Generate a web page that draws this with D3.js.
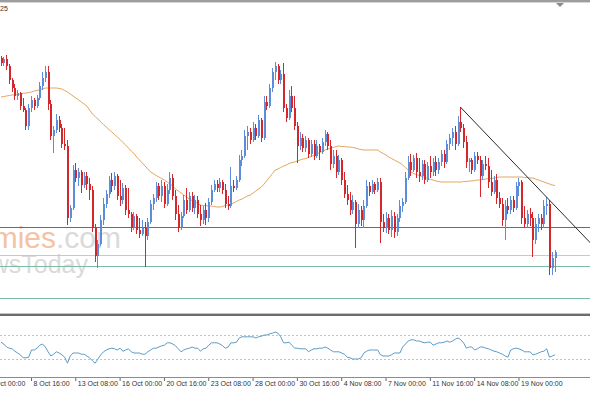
<!DOCTYPE html>
<html>
<head>
<meta charset="utf-8">
<title>H4 chart</title>
<script src="https://cdn.jsdelivr.net/npm/d3@7"></script>
<style>
  body{margin:0;background:#fff;}
  svg{display:block;font-family:"Liberation Sans",Arial,sans-serif;}
</style>
</head>
<body>
<svg id="chart" width="590" height="393"></svg>
<script>
// H4 candles [open, high, low, close], first visible bar 6 Oct 20:00
var ohlc = [
  [1.1652,1.1654,1.1644,1.1647],[1.1647,1.1653,1.1644,1.1651],[1.1651,1.1655,1.1640,1.1644],[1.1644,1.1646,1.1626,1.1630],[1.1630,1.1632,1.1618,1.1622],
  [1.1622,1.1626,1.1610,1.1614],[1.1614,1.1620,1.1610,1.1617],[1.1617,1.1618,1.1600,1.1604],[1.1604,1.1612,1.1598,1.1600],[1.1600,1.1602,1.1580,1.1584],
  [1.1584,1.1606,1.1580,1.1602],[1.1602,1.1614,1.1598,1.1610],[1.1610,1.1612,1.1600,1.1604],[1.1604,1.1615,1.1602,1.1612],[1.1612,1.1628,1.1610,1.1624],
  [1.1624,1.1638,1.1620,1.1632],[1.1632,1.1644,1.1628,1.1638],[1.1638,1.1644,1.1600,1.1606],[1.1606,1.1610,1.1570,1.1574],[1.1574,1.1584,1.1557,1.1580],
  [1.1580,1.1596,1.1577,1.1590],[1.1590,1.1594,1.1578,1.1582],[1.1582,1.1586,1.1562,1.1566],[1.1566,1.1582,1.1560,1.1564],[1.1564,1.1570,1.1485,1.1492],
  [1.1492,1.1505,1.1488,1.1502],[1.1502,1.1545,1.1500,1.1540],[1.1540,1.1547,1.1528,1.1532],[1.1532,1.1542,1.1524,1.1538],[1.1538,1.1540,1.1517,1.1525],
  [1.1525,1.1538,1.1522,1.1534],[1.1534,1.1538,1.1520,1.1526],[1.1526,1.1532,1.1510,1.1520],[1.1520,1.1524,1.1478,1.1482],[1.1482,1.1486,1.1448,1.1454],
  [1.1454,1.1470,1.1442,1.1466],[1.1466,1.1495,1.1464,1.1490],[1.1490,1.1512,1.1485,1.1506],[1.1506,1.1520,1.1502,1.1516],[1.1516,1.1534,1.1512,1.1530],
  [1.1530,1.1537,1.1518,1.1524],[1.1524,1.1538,1.1520,1.1534],[1.1534,1.1536,1.1510,1.1514],[1.1514,1.1530,1.1504,1.1510],[1.1510,1.1527,1.1506,1.1522],
  [1.1522,1.1525,1.1495,1.1500],[1.1500,1.1522,1.1492,1.1496],[1.1496,1.1498,1.1478,1.1482],[1.1482,1.1498,1.1480,1.1494],[1.1494,1.1496,1.1476,1.1480],
  [1.1480,1.1492,1.1472,1.1476],[1.1476,1.1490,1.1474,1.1482],[1.1482,1.1488,1.1443,1.1474],[1.1474,1.1492,1.1470,1.1488],[1.1488,1.1510,1.1486,1.1506],
  [1.1506,1.1516,1.1500,1.1512],[1.1512,1.1528,1.1508,1.1524],[1.1524,1.1527,1.1510,1.1514],[1.1514,1.1530,1.1508,1.1524],[1.1524,1.1528,1.1502,1.1506],
  [1.1506,1.1526,1.1504,1.1520],[1.1520,1.1538,1.1516,1.1532],[1.1532,1.1536,1.1510,1.1514],[1.1514,1.1520,1.1490,1.1496],[1.1496,1.1505,1.1478,1.1482],
  [1.1482,1.1498,1.1480,1.1494],[1.1494,1.1515,1.1492,1.1510],[1.1510,1.1522,1.1496,1.1500],[1.1500,1.1518,1.1498,1.1514],[1.1514,1.1518,1.1498,1.1502],
  [1.1502,1.1515,1.1496,1.1510],[1.1510,1.1514,1.1492,1.1496],[1.1496,1.1505,1.1484,1.1490],[1.1490,1.1504,1.1486,1.1500],[1.1500,1.1507,1.1485,1.1492],
  [1.1492,1.1512,1.1488,1.1508],[1.1508,1.1525,1.1505,1.1520],[1.1520,1.1530,1.1518,1.1526],[1.1526,1.1530,1.1518,1.1522],[1.1522,1.1532,1.1518,1.1528],
  [1.1528,1.1530,1.1516,1.1520],[1.1520,1.1526,1.1502,1.1506],[1.1506,1.1514,1.1500,1.1504],[1.1504,1.1543,1.1502,1.1524],[1.1524,1.1530,1.1518,1.1522],
  [1.1522,1.1534,1.1520,1.1530],[1.1530,1.1555,1.1528,1.1550],[1.1550,1.1560,1.1544,1.1554],[1.1554,1.1580,1.1552,1.1574],[1.1574,1.1584,1.1560,1.1578],
  [1.1578,1.1582,1.1566,1.1570],[1.1570,1.1588,1.1568,1.1582],[1.1582,1.1586,1.1570,1.1574],[1.1574,1.1595,1.1572,1.1590],[1.1590,1.1592,1.1568,1.1572],
  [1.1572,1.1614,1.1570,1.1608],[1.1608,1.1614,1.1600,1.1604],[1.1604,1.1626,1.1602,1.1622],[1.1622,1.1642,1.1618,1.1638],[1.1638,1.1648,1.1630,1.1644],
  [1.1644,1.1646,1.1626,1.1630],[1.1630,1.1640,1.1626,1.1636],[1.1636,1.1647,1.1598,1.1602],[1.1602,1.1606,1.1588,1.1592],[1.1592,1.1620,1.1590,1.1614],
  [1.1614,1.1624,1.1598,1.1602],[1.1602,1.1614,1.1580,1.1584],[1.1584,1.1588,1.1547,1.1564],[1.1564,1.1578,1.1560,1.1572],[1.1572,1.1576,1.1558,1.1562],
  [1.1562,1.1574,1.1558,1.1570],[1.1570,1.1572,1.1552,1.1556],[1.1556,1.1570,1.1553,1.1566],[1.1566,1.1570,1.1550,1.1554],[1.1554,1.1570,1.1552,1.1564],
  [1.1564,1.1566,1.1550,1.1558],[1.1558,1.1572,1.1556,1.1568],[1.1568,1.1580,1.1564,1.1576],[1.1576,1.1578,1.1560,1.1564],[1.1564,1.1570,1.1540,1.1546],
  [1.1546,1.1560,1.1542,1.1554],[1.1554,1.1560,1.1532,1.1538],[1.1538,1.1555,1.1535,1.1550],[1.1550,1.1552,1.1525,1.1530],[1.1530,1.1538,1.1512,1.1516],
  [1.1516,1.1525,1.1505,1.1510],[1.1510,1.1518,1.1495,1.1500],[1.1500,1.1515,1.1496,1.1508],[1.1508,1.1510,1.1462,1.1486],[1.1486,1.1506,1.1482,1.1500],
  [1.1500,1.1504,1.1484,1.1490],[1.1490,1.1510,1.1482,1.1504],[1.1504,1.1530,1.1502,1.1524],[1.1524,1.1528,1.1514,1.1518],[1.1518,1.1530,1.1516,1.1526],
  [1.1526,1.1528,1.1516,1.1520],[1.1520,1.1532,1.1518,1.1528],[1.1528,1.1532,1.1467,1.1488],[1.1488,1.1496,1.1478,1.1482],[1.1482,1.1498,1.1477,1.1492],
  [1.1492,1.1496,1.1476,1.1480],[1.1480,1.1500,1.1473,1.1494],[1.1494,1.1498,1.1472,1.1478],[1.1478,1.1496,1.1474,1.1492],[1.1492,1.1510,1.1488,1.1504],
  [1.1504,1.1512,1.1498,1.1508],[1.1508,1.1538,1.1506,1.1532],[1.1532,1.1554,1.1530,1.1548],[1.1548,1.1556,1.1534,1.1540],[1.1540,1.1555,1.1538,1.1552],
  [1.1552,1.1557,1.1532,1.1538],[1.1538,1.1552,1.1528,1.1534],[1.1534,1.1550,1.1530,1.1546],[1.1546,1.1550,1.1526,1.1530],[1.1530,1.1548,1.1528,1.1544],
  [1.1544,1.1554,1.1532,1.1538],[1.1538,1.1552,1.1534,1.1548],[1.1548,1.1554,1.1534,1.1540],[1.1540,1.1552,1.1536,1.1548],[1.1548,1.1560,1.1544,1.1556],
  [1.1556,1.1560,1.1542,1.1548],[1.1548,1.1570,1.1546,1.1566],[1.1566,1.1576,1.1560,1.1572],[1.1572,1.1582,1.1564,1.1578],[1.1578,1.1584,1.1560,1.1566],
  [1.1566,1.1594,1.1564,1.1588],[1.1588,1.1603,1.1578,1.1582],[1.1582,1.1586,1.1562,1.1568],[1.1568,1.1574,1.1542,1.1548],[1.1548,1.1552,1.1538,1.1550],
  [1.1550,1.1552,1.1536,1.1540],[1.1540,1.1558,1.1538,1.1554],[1.1554,1.1558,1.1546,1.1550],[1.1550,1.1554,1.1513,1.1534],[1.1534,1.1550,1.1530,1.1546],
  [1.1546,1.1554,1.1540,1.1544],[1.1544,1.1552,1.1522,1.1528],[1.1528,1.1540,1.1514,1.1518],[1.1518,1.1534,1.1516,1.1530],[1.1530,1.1536,1.1506,1.1512],
  [1.1512,1.1518,1.1502,1.1506],[1.1506,1.1512,1.1484,1.1490],[1.1490,1.1510,1.1470,1.1504],[1.1504,1.1512,1.1496,1.1500],[1.1500,1.1514,1.1496,1.1510],
  [1.1510,1.1514,1.1498,1.1502],[1.1502,1.1528,1.1500,1.1524],[1.1524,1.1532,1.1514,1.1528],[1.1528,1.1530,1.1486,1.1492],[1.1492,1.1504,1.1482,1.1486],
  [1.1486,1.1500,1.1482,1.1496],[1.1496,1.1502,1.1484,1.1492],[1.1492,1.1498,1.1453,1.1470],[1.1470,1.1492,1.1466,1.1486],[1.1486,1.1496,1.1478,1.1492],
  [1.1492,1.1496,1.1480,1.1486],[1.1486,1.1510,1.1482,1.1504],[1.1504,1.1513,1.1495,1.1506],[1.1506,1.1510,1.1435,1.1442],[1.1442,1.1458,1.1435,1.1452],
  [1.1452,1.1460,1.1438,1.1458]
];

// moving average (orange line), one value per bar
var ma = [
  1.1613,1.16135,1.1614,1.16145,1.1615, 1.1615,1.16155,1.1616,1.16165,1.1617,
  1.16175,1.1618,1.1619,1.16195,1.16205, 1.1621,1.1622,1.1622,1.1622,1.1622,
  1.1622,1.16215,1.1621,1.16195,1.1618, 1.1616,1.1614,1.1612,1.1610,1.1608,
  1.1606,1.1604,1.1600,1.1596,1.15935, 1.1591,1.1588,1.15855,1.1583,1.15805,
  1.1578,1.15755,1.1573,1.15705,1.15675, 1.1565,1.1562,1.1559,1.15565,1.1553,
  1.1550,1.1547,1.1544,1.1541,1.1538, 1.15365,1.15345,1.1533,1.15315,1.1530,
  1.1528,1.1526,1.1524,1.1521,1.1519, 1.1517,1.1515,1.1513,1.1511,1.15095,
  1.1508,1.15065,1.1505,1.15045,1.15045, 1.1504,1.1504,1.15035,1.1503,1.1503,
  1.15035,1.15045,1.1505,1.1506,1.1507, 1.15085,1.1510,1.1511,1.15125,1.1514,
  1.1515,1.1517,1.1519,1.1521,1.1523, 1.1526,1.15295,1.1533,1.15365,1.1540,
  1.1541,1.15425,1.1544,1.1545,1.15465, 1.15475,1.1548,1.1549,1.1550,1.1551,
  1.15515,1.15525,1.15535,1.1555,1.1556, 1.15575,1.15585,1.1560,1.1561,1.1562,
  1.15625,1.15635,1.1564,1.15635,1.15635, 1.1563,1.1563,1.15625,1.1562,1.1561,
  1.15605,1.1560,1.1560,1.1560,1.1560, 1.1560,1.1560,1.1558,1.15565,1.1555,
  1.1553,1.15515,1.1550,1.15485,1.1547, 1.1545,1.15425,1.1540,1.1538,1.15365,
  1.15355,1.15345,1.15335,1.15325,1.15315, 1.15305,1.1530,1.1529,1.15285,1.1528,
  1.1528,1.1528,1.1528,1.1528,1.1528, 1.1528,1.1528,1.15285,1.15285,1.1529,
  1.1529,1.15295,1.1530,1.1530,1.15305, 1.1531,1.15315,1.15315,1.1532,1.15325,
  1.1533,1.1533,1.1533,1.1533,1.1533, 1.1533,1.1533,1.1533,1.1533,1.15325,
  1.15325,1.1532,1.1532,1.1531,1.1530, 1.1529,1.1528,1.1527,1.1526,1.1525,
  1.15245
];

// oscillator in the lower pane (0..100), one value per bar
var rsi = [
  58,55,50,48,47, 43,40,37,32,32, 33,45,45,48,53, 55,50,42,35,38,
  42,40,37,33,23, 35,40,40,40,38, 38,35,32,27,23, 30,37,42,45,47,
  48,47,45,48,43, 45,47,42,40,40, 40,38,38,42,45, 48,48,50,52,53,
  57,57,55,52,47, 42,45,47,48,50, 48,48,43,47,48, 53,57,57,57,55,
  52,48,50,57,57, 58,65,67,67,67, 67,67,65,67,68, 70,70,72,73,75,
  73,67,57,57,58, 53,48,48,47,47, 47,42,45,47,47, 48,48,50,48,45,
  42,42,42,40,38, 33,32,30,30,30, 32,40,43,45,45, 45,45,37,35,35,
  35,37,40,40,40, 50,55,60,62,62, 60,60,58,57,58, 58,53,55,57,57,
  58,60,58,60,63, 65,62,57,48,50, 50,45,47,50,50, 48,47,45,43,42,
  40,38,35,33,45, 47,48,47,45,42, 42,42,37,38,40, 42,43,47,33,35,
  37
];
var rsiLevels = [70, 30];

// horizontal support / resistance levels
var levels = [1.1483, 1.1455, 1.1444, 1.1412];

// trend line anchors [bar index, price]
var trend = [[166, 1.1603], [213, 1.1467]];

// time axis labels and the bar each one sits on
var timeLabels = ["6 Oct 00:00","8 Oct 16:00","13 Oct 08:00","16 Oct 00:00","20 Oct 16:00","23 Oct 08:00",
                  "28 Oct 00:00","30 Oct 16:00","4 Nov 08:00","7 Nov 00:00","11 Nov 16:00","14 Nov 08:00","19 Nov 00:00"];
var labelBars = [-5, 11, 27, 43, 59, 75, 91, 107, 123, 139, 155, 171, 187];

var W = 590, H = 393;
var mainTop = 3, mainBottom = 311, subTop = 317, subBottom = 377;
var upColor = "#5b8ddb", downColor = "#d4262b";
var levelColors = ["#b34a5c", "#c9c9c9", "#7dbba5", "#7dbba5"];

var svg = d3.select("#chart");

var x = d3.scaleLinear().domain([0, ohlc.length - 1]).range([0.5, 554.5]);
var y = d3.scaleLinear().domain([1.1399, 1.1707]).range([mainBottom, mainTop]);
var yr = d3.scaleLinear().domain([0, 100]).range([subBottom, subTop]);

svg.append("rect").attr("width", W).attr("height", H).attr("fill", "#fff");

var defs = svg.append("defs");
defs.append("clipPath").attr("id", "clipMain").append("rect")
    .attr("x", 0).attr("y", mainTop).attr("width", W).attr("height", mainBottom - mainTop);
defs.append("clipPath").attr("id", "clipSub").append("rect")
    .attr("x", 0).attr("y", subTop).attr("width", W).attr("height", subBottom - subTop);

// top frame
svg.append("rect").attr("x", 0).attr("y", 0).attr("width", W).attr("height", 2).attr("fill", "#9d9d9d");
svg.append("rect").attr("x", 0).attr("y", 2).attr("width", W).attr("height", 1).attr("fill", "#d6d6d6");
svg.append("path").attr("d", "M556,3L564,3L560,7Z").attr("fill", "#8a8a8a");

svg.append("text").attr("x", 0).attr("y", 11).attr("font-size", 7).attr("fill", "#333").text("25");

var main = svg.append("g").attr("clip-path", "url(#clipMain)");

// watermark, one text with two coloured parts, split point at x=56
var wm = main.append("text").attr("y", 248).attr("font-size", 30);
var wmA = wm.append("tspan").attr("fill", "#f4c3a4").text("economies");
wm.append("tspan").attr("fill", "#dadada").text(".com");
wm.attr("x", 56 - wmA.node().getComputedTextLength());
main.append("text").attr("x", 88).attr("y", 273).attr("text-anchor", "end")
    .attr("font-size", 25).attr("fill", "#dadada").text("NewsToday");

// levels
main.selectAll("line.level").data(levels).enter().append("line")
    .attr("class", "level")
    .attr("x1", 0).attr("x2", W)
    .attr("y1", function(d){ return Math.round(y(d)) + 0.5; })
    .attr("y2", function(d){ return Math.round(y(d)) + 0.5; })
    .attr("stroke", function(d, i){ return levelColors[i]; })
    .attr("stroke-width", 1);

// moving average
main.append("path").datum(ma)
    .attr("fill", "none").attr("stroke", "#e3a55c").attr("stroke-width", 1)
    .attr("d", d3.line().x(function(d, i){ return x(i) + 0.5; }).y(function(d){ return y(d); }));

// candles
var bar = main.selectAll("g.bar").data(ohlc).enter().append("g").attr("class", "bar");
bar.append("line")
    .attr("x1", function(d, i){ return Math.round(x(i)) + 0.5; })
    .attr("x2", function(d, i){ return Math.round(x(i)) + 0.5; })
    .attr("y1", function(d){ return y(d[1]); })
    .attr("y2", function(d){ return y(d[2]); })
    .attr("stroke", function(d){ return d[3] >= d[0] ? upColor : downColor; })
    .attr("stroke-width", 1);
bar.append("rect")
    .attr("x", function(d, i){ return Math.round(x(i)); })
    .attr("width", 2)
    .attr("y", function(d){ return y(Math.max(d[0], d[3])); })
    .attr("height", function(d){ return Math.max(1, Math.abs(y(d[0]) - y(d[3]))); })
    .attr("fill", function(d){ return d[3] >= d[0] ? upColor : downColor; });

// trend line
main.append("line")
    .attr("x1", x(trend[0][0])).attr("y1", y(trend[0][1]))
    .attr("x2", x(trend[1][0])).attr("y2", y(trend[1][1]))
    .attr("stroke", "#2a2a2a").attr("stroke-width", 1);

// pane separator
svg.append("rect").attr("x", 0).attr("y", 313).attr("width", W).attr("height", 1).attr("fill", "#c4c4c4");
svg.append("rect").attr("x", 0).attr("y", 314).attr("width", W).attr("height", 2).attr("fill", "#6c6c6c");

// lower pane
var sub = svg.append("g").attr("clip-path", "url(#clipSub)");
sub.selectAll("line.lvl").data(rsiLevels).enter().append("line")
    .attr("x1", 0).attr("x2", W)
    .attr("y1", function(d){ return Math.round(yr(d)) + 0.5; })
    .attr("y2", function(d){ return Math.round(yr(d)) + 0.5; })
    .attr("stroke", "#c2c2c2").attr("stroke-dasharray", "2,2");
sub.append("path").datum(rsi)
    .attr("fill", "none").attr("stroke", "#5c9bc6").attr("stroke-width", 1)
    .attr("d", d3.line().x(function(d, i){ return x(i) + 0.5; }).y(function(d){ return yr(d); }));

// bottom line and time axis
svg.append("rect").attr("x", 0).attr("y", subBottom).attr("width", W).attr("height", 1).attr("fill", "#8c8c8c");
var axis = d3.axisBottom(x).tickValues(labelBars).tickSize(3)
    .tickFormat(function(d, i){ return timeLabels[i]; });
var ax = svg.append("g").attr("transform", "translate(0," + (subBottom + 1) + ")").call(axis);
ax.select(".domain").remove();
ax.attr("font-family", "Liberation Sans, Arial, sans-serif").attr("font-size", 7);
ax.selectAll(".tick line").attr("stroke", "#666");
ax.selectAll(".tick text").attr("text-anchor", "start").attr("x", 2).attr("y", 3).attr("fill", "#333");
</script>
</body>
</html>
